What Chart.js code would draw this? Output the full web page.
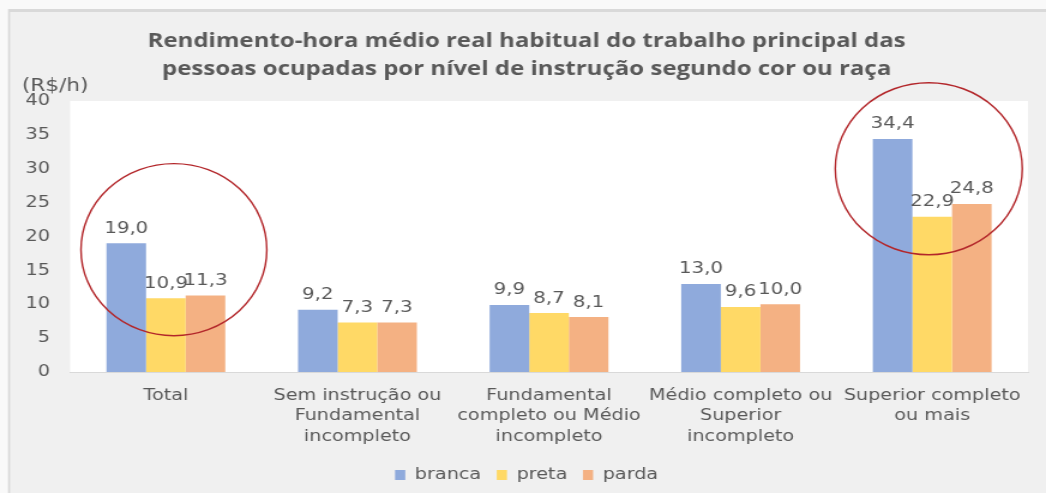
<!DOCTYPE html>
<html>
<head>
<meta charset="utf-8">
<script src="https://cdn.jsdelivr.net/npm/chart.js@4.4.1/dist/chart.umd.min.js"></script>
<style>
html,body{margin:0;padding:0;background:#f9f9f9;overflow:hidden;}
#wrap{width:1046px;height:493px;position:relative;overflow:hidden;}
#c{display:block;transform:scaleX(1.19954);transform-origin:0 0;}
</style>
</head>
<body>
<div id="wrap"><canvas id="c" width="872" height="493" style="width:872px;height:493px"></canvas></div>
<script>
// ---- data ----
const categories = [
  ["Total"],
  ["Sem instrução ou", "Fundamental", "incompleto"],
  ["Fundamental", "completo ou Médio", "incompleto"],
  ["Médio completo ou", "Superior", "incompleto"],
  ["Superior completo", "ou mais"]
];
const seriesNames = ["branca", "preta", "parda"];
const branca = [19.0, 9.2, 9.9, 13.0, 34.4];
const preta  = [10.9, 7.3, 8.7, 9.6, 22.9];
const parda  = [11.3, 7.3, 8.1, 10.0, 24.8];
const yMin = 0, yMax = 40, yStep = 5;
const titleLines = [
  "Rendimento-hora médio real habitual do trabalho principal das",
  "pessoas ocupadas por nível de instrução segundo cor ou raça"
];
const yUnit = "(R$/h)";

const TEXT = '#595959';
const FONT = '"DejaVu Sans", Verdana, sans-serif';
const fmt = v => v.toFixed(1).replace('.', ',');

const bgPlugin = {
  id: 'bg',
  beforeDraw(chart) {
    const {ctx, width: w, height: h, chartArea: a} = chart;
    ctx.save();
    ctx.fillStyle = '#f9f9f9'; ctx.fillRect(0, 0, w, h);
    ctx.fillStyle = '#d9d9d9'; ctx.fillRect(6.7, 9, w, h);
    ctx.fillStyle = '#f0f0f0'; ctx.fillRect(8.4, 12, w, h);
    ctx.fillStyle = '#ffffff'; ctx.fillRect(a.left, a.top, a.right - a.left, a.bottom - a.top);
    ctx.restore();
  }
};

const labelPlugin = {
  id: 'vlabels',
  afterDatasetsDraw(chart) {
    const ctx = chart.ctx;
    ctx.save();
    ctx.font = '16.5px ' + FONT;
    ctx.fillStyle = TEXT;
    ctx.textAlign = 'center';
    ctx.textBaseline = 'alphabetic';
    chart.data.datasets.forEach((ds, i) => {
      chart.getDatasetMeta(i).data.forEach((bar, j) => {
        ctx.fillText(fmt(ds.data[j]), bar.x, bar.y - 10.5);
      });
    });
    ctx.font = '18px ' + FONT;
    ctx.textAlign = 'left';
    ctx.textBaseline = 'middle';
    ctx.fillText(yUnit, 18.3, 86);
    ctx.restore();
  }
};

const ellipsePlugin = {
  id: 'ellipses',
  afterDraw(chart, args, opts) {
    const ctx = chart.ctx;
    const xs = chart.scales.x, ys = chart.scales.y;
    const catW = (xs.right - xs.left) / chart.data.labels.length;
    ctx.save();
    ctx.strokeStyle = '#b3262a';
    ctx.lineWidth = 1.4;
    opts.items.forEach(it => {
      const cx = xs.getPixelForValue(it.index) + it.dx * catW;
      const cy = ys.getPixelForValue(it.yCenter);
      const rx = it.rx * catW;
      const ry = Math.abs(ys.getPixelForValue(0) - ys.getPixelForValue(it.ryValue));
      ctx.beginPath();
      ctx.ellipse(cx, cy, rx, ry, 0, 0, Math.PI * 2);
      ctx.stroke();
    });
    ctx.restore();
  }
};

new Chart(document.getElementById('c'), {
  type: 'bar',
  data: {
    labels: categories,
    datasets: [
      {label: seriesNames[0], data: branca, backgroundColor: '#8faadc'},
      {label: seriesNames[1], data: preta,  backgroundColor: '#ffd966'},
      {label: seriesNames[2], data: parda,  backgroundColor: '#f4b183'}
    ]
  },
  options: {
    responsive: false,
    animation: false,
    devicePixelRatio: 1,
    layout: {padding: {left: 21, right: 15, top: 0, bottom: 0}},
    datasets: {bar: {categoryPercentage: 0.62, barPercentage: 1.0}},
    scales: {
      x: {
        grid: {display: false, drawTicks: false},
        border: {display: true, color: '#d9d9d9', width: 1},
        ticks: {color: TEXT, font: {family: FONT, size: 16, lineHeight: 1.3}, padding: 13, autoSkip: false, maxRotation: 0},
        afterFit(scale) { scale.height = 82; }
      },
      y: {
        min: yMin, max: yMax,
        grid: {display: false, drawTicks: false},
        border: {display: false},
        ticks: {stepSize: yStep, color: TEXT, font: {family: FONT, size: 16}, padding: 16.7},
        afterFit(scale) { scale.width = 37.4; }
      }
    },
    plugins: {
      title: {
        display: true, text: titleLines, color: TEXT,
        font: {family: '"Open Sans", sans-serif', size: 20, weight: 'bold', lineHeight: 1.4},
        padding: {top: 27, bottom: 18}
      },
      legend: {
        position: 'bottom',
        labels: {color: TEXT, font: {family: FONT, size: 16}, boxWidth: 8.5, boxHeight: 10, padding: 13}
      },
      tooltip: {enabled: false},
      ellipses: {items: [
        {index: 0, dx: 0.042, yCenter: 18.06, rx: 0.485, ryValue: 12.7},
        {index: 4, dx: -0.018, yCenter: 30.0, rx: 0.488, ryValue: 12.7}
      ]}
    }
  },
  plugins: [bgPlugin, labelPlugin, ellipsePlugin]
});
</script>
</body>
</html>
